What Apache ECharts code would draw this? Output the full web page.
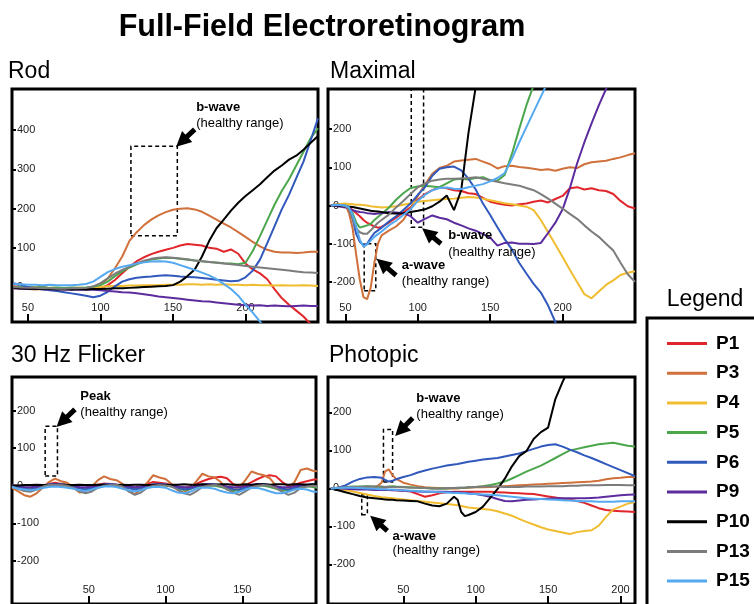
<!DOCTYPE html>
<html><head><meta charset="utf-8">
<script src="https://cdn.jsdelivr.net/npm/echarts@6/dist/echarts.min.js"></script>
<style>html,body{margin:0;padding:0;background:#fff}#c{width:754px;height:604px}</style>
</head><body><div id="c"></div>
<script>
const names = ['P1','P3','P4','P5','P6','P9','P10','P13','P15'];
const colors = ['#e1262b','#d0703a','#f0bc30','#4ca64c','#3158bc','#5c2c9e','#000000','#7c7c7c','#55a9f0'];

// ---- Rod ----
const rodX = [40,45,50,55,60,65,70,75,80,85,90,95,100,105,110,115,120,125,130,135,140,145,150,155,160,165,170,175,180,185,190,195,200,205,210,215,220,225,230,235,240,245,250];
const rodP1 = [2,0,-2,-1,0,-3,-2,-4,-3,-2,-4,-5, -3,5,18,35,52,66,76,84,90,95,100,106,110,108,106,100,98,90,96,85,60,45,35,20,-5,-28,-45,-60,-75,-95,-115];
const rodP3 = [-3,-4,-5,-6,-5,-6,-7,-6,-5,-6,-5,-3, 5,22,48,78,118,140,158,172,183,191,197,200,201,198,192,182,172,162,152,140,128,115,104,95,90,88,88,87,88,90,90];
const rodP4 = [0,-1,-2,-1,-3,-2,-2,-3,-2,-1,-2,-1, 0,2,3,3,4,4,5,5,5,6,6,6,7,7,6,7,6,7,6,6,5,6,5,5,4,5,4,4,5,4,3];
const rodP5 = [0,1,0,-1,0,-2,-1,-2,-1,-2,-1,1, 5,14,28,40,50,58,65,70,73,75,74,72,70,68,66,64,63,61,60,58,62,92,130,170,210,245,275,310,345,380,405];
const rodP6 = [10,6,0,-3,-6,-8,-10,-13,-16,-19,-22,-26, -22,-12,2,14,20,24,26,27,29,30,29,27,26,25,23,21,19,17,15,16,25,42,70,112,155,198,235,278,320,375,430];
const rodP9 = [-3,-4,-5,-4,-5,-6,-5,-6,-7,-6,-7,-7, -8,-10,-11,-13,-14,-16,-18,-21,-24,-26,-28,-30,-32,-34,-36,-37,-39,-41,-43,-45,-46,-47,-46,-48,-47,-48,-49,-48,-47,-48,-48];
const rodP10 = [-2,-3,-4,-4,-5,-5,-6,-5,-6,-5,-6,-5, -5,-4,-3,-3,-2,-1,0,1,2,3,5,14,28,45,78,118,150,172,195,215,232,247,262,280,297,310,325,335,350,368,385];
const rodP13 = [0,-1,-2,-2,-3,-3,-4,-4,-3,-3,-2,2, 10,22,34,44,52,60,67,72,75,76,75,73,71,68,66,64,62,60,58,56,54,52,50,48,46,44,42,40,38,37,36];
const rodP15 = [8,7,6,6,5,6,5,5,5,6,8,14, 26,38,46,52,56,60,63,65,66,65,62,56,50,44,37,30,20,8,-5,-22,-45,-65,-88,-115,-145,-175,-205,-235,-265,-295,-325];

// ---- Maximal ----
const maxX = [40,45,50,52.5,55,57.5,60,62.5,65,67.5,70,72.5,75,80,85,90,95,100,105,110,115,120,125,130,135,140,145,150,155,160,165,170,175,180,185,190,195,200,205,210,215,220,225,230,235,240,245,250];
const maxP1 = [0,3,0,-5,-12,-20,-28,-38,-45,-50,-55,-58,-56, -45,-32,-18,-5,15,30,40,48,45,40,38,32,30,20,10,5,2,0,3,5,10,13,8,17,25,45,48,42,45,40,38,30,12,-2,-8];
const maxP3 = [0,3,2,-20,-60,-130,-195,-240,-245,-215,-150,-100,-78, -66,-55,-38,-8,25,55,83,98,104,115,118,120,122,115,108,97,103,104,101,99,96,93,95,91,96,100,98,108,113,115,117,122,126,132,137];
const maxP4 = [0,3,5,4,3,2,2,1,0,-2,-3,-4,-5, -4,-2,2,6,10,12,14,16,17,18,20,22,21,18,14,10,6,3,0,-3,-12,-38,-70,-102,-135,-168,-200,-232,-243,-225,-208,-196,-182,-176,-172];
const maxP5 = [0,2,0,-5,-20,-45,-58,-55,-52,-48,-38,-30,-22, -6,15,32,46,50,52,50,48,58,68,70,68,72,74,66,65,80,135,200,262,315,380,440,500,560,600,600,600,600,600,600,600,600,600,600];
const maxP6 = [0,2,-2,-8,-35,-75,-95,-104,-100,-85,-72,-65,-58, -42,-28,-12,5,28,48,78,96,100,102,92,70,42,5,-25,-57,-88,-115,-150,-178,-205,-228,-262,-305,-345,-385,-425,-465,-500,-500,-500,-500,-500,-500,-500];
const maxP9 = [0,-2,-5,-8,-12,-15,-17,-18,-20,-21,-22,-21,-20, -17,-18,-20,-28,-45,-35,-26,-32,-36,-45,-52,-60,-66,-75,-84,-105,-98,-97,-100,-100,-101,-98,-72,-45,-10,45,110,165,215,262,305,350,400,450,500];
const maxP10 = [0,0,-2,-3,-4,-6,-8,-10,-12,-14,-15,-16,-17, -20,-21,-20,-17,-14,-10,-2,10,26,-12,40,190,310,450,600,600,600,600,600,600,600,600,600,600,600,600,600,600,600,600,600,600,600,600,600];
const maxP13 = [0,2,-2,-10,-35,-60,-70,-74,-74,-65,-55,-45,-38, -24,-5,12,30,48,58,65,68,70,70,71,72,74,70,66,62,58,55,52,46,40,30,18,5,-8,-22,-35,-52,-68,-82,-100,-118,-150,-180,-200];
const maxP15 = [0,2,0,-5,-25,-55,-90,-108,-102,-92,-82,-75,-68, -52,-40,-25,-10,12,28,40,46,47,44,43,48,52,56,63,72,85,122,165,205,245,285,325,365,405,445,485,525,565,600,600,600,600,600,600];

// ---- 30 Hz Flicker ----
const flkX = [0,4,8,12,16,20,24,28,32,36,40,44,48,52,56,60,64,68,72,76,80,84,88,92,96,100,104,108,112,116,120,124,128,132,136,140,144,148,152,156,160,164,168,172,176,180,184,188,192,196,200];
const flkP1 = [0,-5,-8,-10,-5,0,5,8,5,3, 0,-5,-6,-2,3,6,5,3,0,-5, -8,-3,5,10,8,6,2,-3,-6,-2, 5,12,18,22,24,20,5,-2,2,10, 18,25,28,25,10,0,2,8,12,16, 18];
const flkP3 = [-5,-15,-25,-29,-20,-5,10,19,12,8, -5,-18,-15,-2,15,25,18,15,5,-15, -22,-10,8,28,22,18,5,-12,-18,-8, 12,32,25,22,10,-10,-15,-5,15,38, 32,28,20,0,-10,-5,10,42,46,40, 38];
const flkP4 = [1,-2,-5,-6,-3,1,3,4,3,1, -2,-5,-6,-3,1,3,4,2,0,-4, -7,-4,0,3,4,3,0,-4,-7,-5, -1,2,3,2,-1,-5,-8,-6,-2,1, 3,2,0,-4,-8,-7,-3,0,2,1, -1];
const flkP5 = [0,-2,-4,-5,-3,0,2,2,1,0, -2,-5,-6,-3,0,2,2,1,-1,-5, -8,-5,-1,1,2,1,-2,-7,-11,-9, -3,0,1,0,-3,-9,-13,-12,-6,-1, 0,0,-3,-8,-13,-12,-6,-2,-1,-3, -6];
const flkP6 = [0,-4,-8,-10,-6,0,4,5,4,2, -2,-7,-10,-6,0,4,5,3,0,-6, -10,-6,0,4,5,4,0,-5,-9,-8, -2,3,5,4,1,-4,-9,-10,-5,1, 4,5,2,-3,-8,-10,-6,0,3,4, 2];
const flkP9 = [2,0,-3,-4,-2,1,3,4,3,2, 0,-3,-4,-2,1,3,4,3,1,-2, -4,-2,1,3,4,3,1,-2,-4,-3, 0,3,4,3,1,-2,-4,-4,-1,2, 4,3,1,-2,-4,-4,-1,2,3,2, 1];
const flkP10 = [0,1,2,2,3,2,2,3,3,2, 2,3,2,2,3,3,2,2,3,2, 3,3,2,2,3,2,3,3,4,3, 3,4,3,3,4,4,3,3,4,3, 4,4,3,4,4,3,4,4,3,4, 4];
const flkP13 = [-2,-8,-14,-16,-10,-2,2,3,2,0, -5,-15,-20,-15,-5,0,2,2,-2,-15, -24,-18,-5,0,2,1,-2,-10,-20,-24, -15,-3,1,2,0,-8,-18,-24,-15,-4, 0,2,0,-6,-16,-24,-18,-6,-2,0, -2];
const flkP15 = [-3,-8,-10,-12,-10,-6,-3,-2,-3,-5, -8,-12,-14,-10,-5,-2,-1,-3,-8,-12, -15,-12,-6,-3,-3,-5,-12,-18,-20,-16, -8,-5,-5,-8,-14,-18,-20,-16,-10,-6, -6,-10,-15,-20,-20,-16,-10,-8,-10,-15, -16];

// ---- Photopic ----
const phoX = [0,5,10,15,20,25,30,35,37.5,40,42.5,45,50,55,60,65,70,75,80,85,87.5,90,92.5,95,100,105,110,115,120,125,130,135,140,145,150,155,160,165,170,175,180,185,190,195,200,205,210];
const phoP1 = [0,2,3,2,0,-1,-2,-3,-3,-4,-4,-5, -6,-8,-15,-22,-18,-13,-10,-9, -9,-9,-9,-9, -9,-9,-9,-10,-11,-12,-13,-14,-15,-18,-21,-24,-27,-30,-33,-38,-45,-52,-57,-59,-60,-61,-62];
const phoP3 = [0,1,2,1,0,1,0,15,45,50,35,25, 15,10,6,3,2,1,0,0, 0,1,1,2, 3,3,4,5,6,7,8,9,10,11,12,13,14,15,16,17,18,20,24,27,28,30,30];
const phoP4 = [0,-2,-4,-8,-12,-16,-20,-23,-24,-25,-26,-27, -29,-31,-33,-35,-37,-39,-41,-43, -44,-46,-48,-50, -52,-54,-56,-60,-66,-72,-80,-88,-95,-102,-108,-112,-116,-120,-115,-112,-110,-98,-75,-55,-48,-40,-36];
const phoP5 = [0,2,4,5,5,6,5,4,4,5,6,5, 4,3,2,1,0,-1,0,1, 1,2,2,3, 4,6,9,13,18,26,35,44,52,60,70,80,90,100,104,108,112,116,118,120,116,112,110];
const phoP6 = [0,2,8,18,25,29,30,28,22,18,20,24, 30,35,42,47,52,56,60,63, 64,66,68,70, 73,76,78,80,84,88,92,98,104,110,114,116,110,102,95,87,80,72,64,56,48,40,32];
const phoP9 = [0,0,-1,-2,-3,-3,-4,-4,-4,-4,-5,-5, -6,-7,-8,-9,-9,-9,-9,-10, -10,-11,-12,-13, -15,-18,-22,-28,-33,-34,-32,-30,-29,-28,-27,-26,-26,-26,-26,-26,-25,-24,-22,-20,-18,-17,-16];
const phoP10 = [0,-5,-10,-15,-20,-24,-26,-28,-29,-30,-30,-31, -32,-33,-34,-40,-45,-47,-40,-22, -30,-62,-73,-70, -62,-48,-25,-2,25,58,85,98,130,148,160,235,280,320,360,400,440,480,520,560,600,600,600];
const phoP13 = [0,2,3,4,4,5,5,5,4,4,4,3, 3,2,2,1,0,0,1,1, 2,2,2,3, 4,5,5,5,4,4,4,5,5,5,6,6,6,7,7,8,8,8,9,9,9,8,8];
const phoP15 = [0,1,2,2,1,0,-1,-2,-2,-3,-3,-4, -5,-6,-7,-8,-9,-10,-11,-12, -12,-13,-13,-14, -15,-16,-17,-18,-20,-22,-24,-26,-27,-28,-29,-30,-31,-32,-33,-34,-34,-35,-35,-35,-34,-34,-34];

// ---- tick labels ----
const rodXTicks = [50,100,150,200];
const rodYTicks = [0,100,200,300,400];
const maxXTicks = [50,100,150,200];
const maxYTicks = [-200,-100,0,100,200];
const flkXTicks = [50,100,150];
const flkYTicks = [-200,-100,0,100,200];
const phoXTicks = [50,100,150,200];
const phoYTicks = [-200,-100,0,100,200];

// ---- annotations (data coordinates) ----
const rodBoxes = [[[121,131],[153,359]]];
const rodArrows = [[[165,402],[156,371]]];
const rodNotes = [[166,459,'b-wave',true],[166,417,'(healthy range)',false]];
const maxBoxes = [[[63,-223],[71,-100]],[[95.5,-57],[104,305]]];
const maxArrows = [[[85,-183],[75.5,-152]],[[116,-100],[107,-72]]];
const maxNotes = [[89,-157,'a-wave',true],[89,-198,'(healthy range)',false],[121,-78,'b-wave',true],[121,-122,'(healthy range)',false]];
const flkBoxes = [[[21.6,26],[29.6,158]]];
const flkArrows = [[[41,203],[32.5,170]]];
const flkNotes = [[44.5,238,'Peak',true],[44.5,194,'(healthy range)',false]];
const phoBoxes = [[[36.3,17],[42.6,155]],[[21.3,-69],[25.2,-17]]];
const phoArrows = [[[56.5,185],[48,152]],[[39,-112],[31,-85]]];
const phoNotes = [[59,237,'b-wave',true],[59,194,'(healthy range)',false],[42.6,-125,'a-wave',true],[42.6,-164,'(healthy range)',false]];

const FONT = '"Liberation Sans", Arial, Helvetica, sans-serif';

const panels = [
  {xs: rodX, ys: [rodP1,rodP3,rodP4,rodP5,rodP6,rodP9,rodP10,rodP13,rodP15], grid:{left:12,top:89,width:306,height:233}, xr:[39,250], yr:[-89,505], xt:rodXTicks, yt:rodYTicks, boxes:rodBoxes, arrows:rodArrows, notes:rodNotes},
  {xs: maxX, ys: [maxP1,maxP3,maxP4,maxP5,maxP6,maxP9,maxP10,maxP13,maxP15], grid:{left:328,top:89,width:307,height:233}, xr:[38,250], yr:[-305,305], xt:maxXTicks, yt:maxYTicks, boxes:maxBoxes, arrows:maxArrows, notes:maxNotes},
  {xs: flkX, ys: [flkP1,flkP3,flkP4,flkP5,flkP6,flkP9,flkP10,flkP13,flkP15], grid:{left:12,top:377,width:304,height:230}, xr:[0,198], yr:[-314,289], xt:flkXTicks, yt:flkYTicks, boxes:flkBoxes, arrows:flkArrows, notes:flkNotes},
  {xs: phoX, ys: [phoP1,phoP3,phoP4,phoP5,phoP6,phoP9,phoP10,phoP13,phoP15], grid:{left:328,top:377,width:307,height:230}, xr:[-2,210], yr:[-304,293], xt:phoXTicks, yt:phoYTicks, boxes:phoBoxes, arrows:phoArrows, notes:phoNotes}
];

const grids = [], xAxes = [], yAxes = [], series = [];
panels.forEach((p, pi) => {
  grids.push(Object.assign({show:true, borderColor:'#000', borderWidth:3, backgroundColor:'transparent'}, p.grid));
  xAxes.push({type:'value', gridIndex:pi, min:p.xr[0], max:p.xr[1], position:'bottom',
    axisLine:{show:false, onZero:false}, splitLine:{show:false},
    axisTick:{show:true, inside:true, length:8, lineStyle:{width:2,color:'#000'}, customValues:p.xt},
    axisLabel:{inside:true, margin:9, fontSize:11, color:'#222', fontFamily:FONT, customValues:p.xt}});
  yAxes.push({type:'value', gridIndex:pi, min:p.yr[0], max:p.yr[1], position:'left',
    axisLine:{show:false, onZero:false}, splitLine:{show:false},
    axisTick:{show:true, inside:true, length:4, lineStyle:{width:2,color:'#000'}, customValues:p.yt},
    axisLabel:{inside:true, margin:5, fontSize:11, color:'#222', fontFamily:FONT, customValues:p.yt}});
  names.forEach((n, i) => {
    const s = {type:'line', name:n, xAxisIndex:pi, yAxisIndex:pi, symbol:'none', clip:true,
      data: p.xs.map((x,k)=>[x, p.ys[i][k]]),
      lineStyle:{width:2, color:colors[i]}, itemStyle:{color:colors[i]}, emphasis:{disabled:true}};
    if (i === 0) {
      s.markArea = {silent:true, itemStyle:{color:'rgba(0,0,0,0)', borderColor:'#000', borderWidth:1.5, borderType:[4,3]},
        label:{show:false}, data: p.boxes.map(b=>[{coord:b[0]},{coord:b[1]}])};
      s.markLine = {silent:true, symbol:['none','triangle'], symbolSize:15, label:{show:false},
        lineStyle:{color:'#000', width:5, type:'solid'}, emphasis:{disabled:true},
        data: p.arrows.map(a=>[{coord:a[0]},{coord:a[1]}])};
      s.markPoint = {silent:true, symbol:'circle', symbolSize:0,
        data: p.notes.map(nt=>({coord:[nt[0],nt[1]], label:{show:true, position:'right', distance:0, formatter:nt[2],
          color:'#000', fontFamily:FONT, fontSize:13, fontWeight: nt[3]?'bold':'normal'}}))};
    }
    series.push(s);
  });
});

const chart = echarts.init(document.getElementById('c'), null, {renderer:'canvas'});
chart.setOption({
  backgroundColor:'#fff',
  animation:false,
  grid: grids, xAxis: xAxes, yAxis: yAxes, series: series,
  legend: {data:names, orient:'vertical', left:662, top:329, itemWidth:40, itemHeight:3, itemGap:10.7,
    selectedMode:false, icon:'rect', itemStyle:{borderWidth:0},
    textStyle:{fontSize:19, fontWeight:'bold', color:'#000', fontFamily:FONT, padding:[0,0,0,4]}},
  graphic: [
    {type:'text', x:322, y:28, style:{text:'Full-Field Electroretinogram', fontFamily:FONT, fontSize:30.5, fontWeight:'bold', fill:'#000', align:'center', verticalAlign:'middle'}},
    {type:'text', x:8, y:72, style:{text:'Rod', fontFamily:FONT, fontSize:23, fill:'#000', align:'left', verticalAlign:'middle'}},
    {type:'text', x:330, y:72, style:{text:'Maximal', fontFamily:FONT, fontSize:23, fill:'#000', align:'left', verticalAlign:'middle'}},
    {type:'text', x:11, y:356, style:{text:'30 Hz Flicker', fontFamily:FONT, fontSize:23, fill:'#000', align:'left', verticalAlign:'middle'}},
    {type:'text', x:329, y:356, style:{text:'Photopic', fontFamily:FONT, fontSize:23, fill:'#000', align:'left', verticalAlign:'middle'}},
    {type:'text', x:705, y:300, style:{text:'Legend', fontFamily:FONT, fontSize:23, fill:'#000', align:'center', verticalAlign:'middle'}},
    {type:'rect', shape:{x:647, y:318, width:200, height:400}, style:{fill:'none', stroke:'#000', lineWidth:3}}
  ]
});
</script></body></html>
